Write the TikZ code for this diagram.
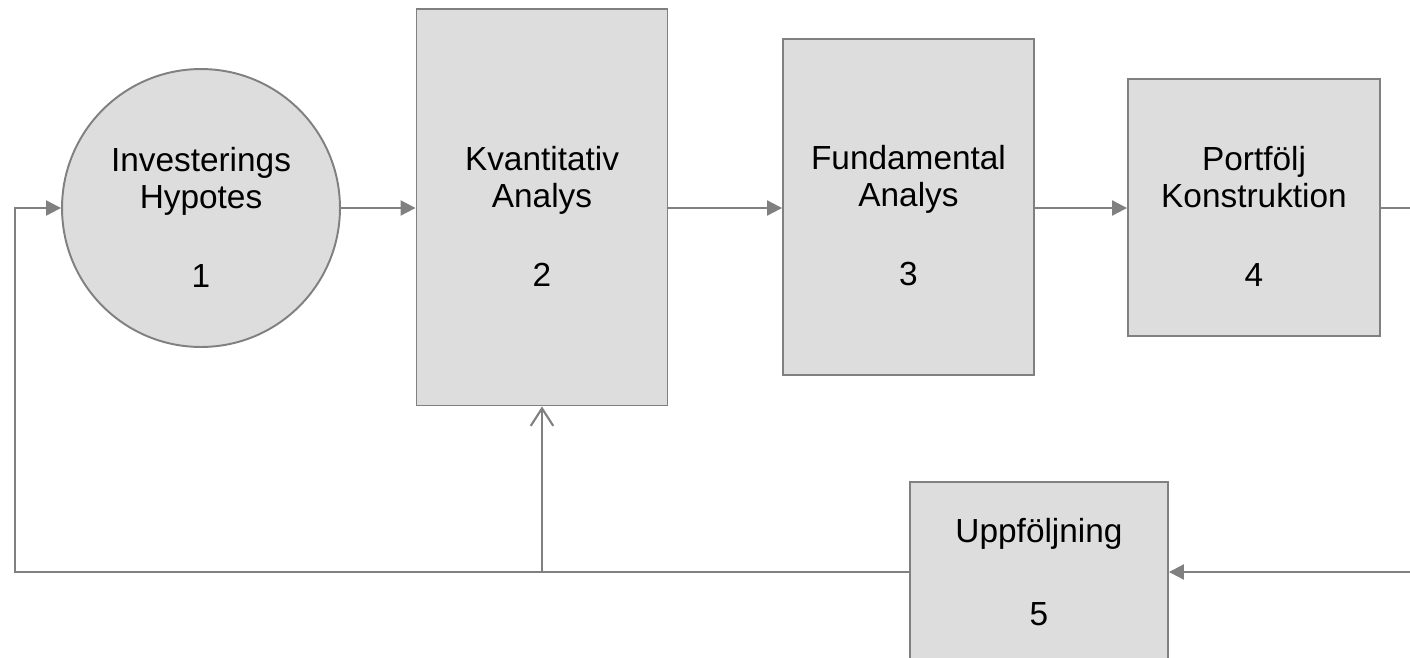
\documentclass[tikz,border=0pt]{standalone}
\usepackage{fontspec}
\setmainfont{Liberation Sans}
\usetikzlibrary{arrows.meta}
\usetikzlibrary{shapes}
\definecolor{boxfill}{HTML}{DDDDDD}
\definecolor{linegray}{HTML}{808080}
\newcommand{\headstrut}{\rule{0pt}{24pt}}
\tikzstyle{StepNode}=[rectangle, draw=linegray, fill=boxfill, line width=1.1pt, align=center, font=\fontsize{19}{21}\selectfont, inner sep=0pt]
\tikzstyle{HypoNode}=[StepNode, circle, minimum size=5.56cm]
\tikzstyle{FlowEdge}=[draw=linegray, line width=1.2pt, -{Triangle[length=0.3cm,width=0.3cm]}]
\tikzstyle{PlainEdge}=[draw=linegray, line width=1.2pt]
\tikzstyle{BackEdge}=[PlainEdge, -{Straight Barb[length=0.35cm,width=0.45cm]}]

\begin{document}
\begin{tikzpicture}[x=0.02cm, y=-0.02cm]
\useasboundingbox (0,0) rectangle (1410,657);
\node[HypoNode](HYP) at (201,208) {\headstrut Investerings\\Hypotes\\[24pt]1};
\node[StepNode, minimum width=5.02cm, minimum height=7.94cm](KVA) at (542,207) {\headstrut Kvantitativ\\Analys\\[24pt]2};
\node[StepNode, minimum width=5.02cm, minimum height=6.72cm](FUN) at (908.5,207) {\headstrut Fundamental\\Analys\\[24pt]3};
\node[StepNode, minimum width=5.04cm, minimum height=5.14cm](POR) at (1254,207.5) {\headstrut Portfölj\\Konstruktion\\[24pt]4};
\node[StepNode, minimum width=5.16cm, minimum height=3.6cm](UPP) at (1039,572) {Uppföljning\\[26pt]5};
\coordinate (OUT) at (1410,208);
\coordinate (IN) at (1410,572);
\coordinate (LB) at (15,572);
\coordinate (LT) at (15,208);
\coordinate (JOIN) at (542,572);

\draw[FlowEdge](HYP) -- (KVA.west |- HYP);
\draw[FlowEdge](KVA.east |- OUT) -- (FUN.west |- OUT);
\draw[FlowEdge](FUN.east |- OUT) -- (POR.west |- OUT);
\draw[PlainEdge](POR.east |- OUT) -- (OUT);
\draw[FlowEdge](IN) -- (UPP.east |- IN);
\draw[FlowEdge](UPP.west |- LB) -- (LB) -- (LT) -- (HYP.west);
\draw[BackEdge](JOIN) -- (KVA.south);
\end{tikzpicture}
\end{document}
